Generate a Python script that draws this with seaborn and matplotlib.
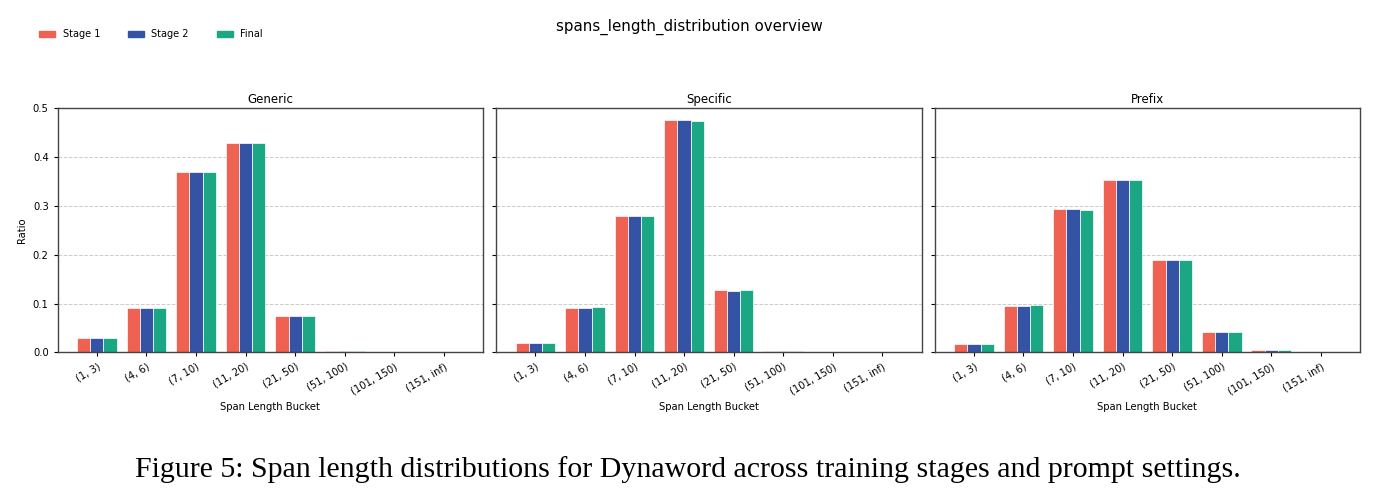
import pandas as pd
import matplotlib
matplotlib.use("Agg")
import matplotlib.pyplot as plt
import seaborn as sns

buckets = ["(1, 3)", "(4, 6)", "(7, 10)", "(11, 20)", "(21, 50)",
           "(51, 100)", "(101, 150)", "(151, inf)"]
stages = ["Stage 1", "Stage 2", "Final"]
settings = ["Generic", "Specific", "Prefix"]

generic_stage1 = [0.030, 0.091, 0.370, 0.429, 0.0745, 0.003, 0.0002, 0.0]
generic_stage2 = [0.030, 0.091, 0.370, 0.429, 0.0745, 0.003, 0.0002, 0.0]
generic_final = [0.030, 0.091, 0.370, 0.428, 0.0745, 0.003, 0.0002, 0.0]

specific_stage1 = [0.019, 0.091, 0.280, 0.476, 0.127, 0.002, 0.0001, 0.0]
specific_stage2 = [0.019, 0.0915, 0.279, 0.477, 0.1255, 0.002, 0.0001, 0.0]
specific_final = [0.019, 0.093, 0.279, 0.475, 0.127, 0.002, 0.0001, 0.0]

prefix_stage1 = [0.017, 0.0956, 0.294, 0.3525, 0.190, 0.0423, 0.0048, 0.0]
prefix_stage2 = [0.017, 0.0956, 0.294, 0.353, 0.190, 0.0423, 0.0048, 0.0]
prefix_final = [0.017, 0.0963, 0.292, 0.354, 0.190, 0.0423, 0.0048, 0.0]

palette = {"Stage 1": "#EF6150", "Stage 2": "#3553A5", "Final": "#1BA784"}

series = {
    "Generic": [generic_stage1, generic_stage2, generic_final],
    "Specific": [specific_stage1, specific_stage2, specific_final],
    "Prefix": [prefix_stage1, prefix_stage2, prefix_final],
}

rows = []
for setting in settings:
    for stage, vals in zip(stages, series[setting]):
        for b, v in zip(buckets, vals):
            rows.append({"setting": setting, "stage": stage, "bucket": b, "ratio": v})
df = pd.DataFrame(rows)

plt.rcParams["font.family"] = ["DejaVu Sans"]

fig, axes = plt.subplots(1, 3, figsize=(13.84, 5.01), dpi=100, sharey=True)
fig.subplots_adjust(left=0.0417, right=0.9827, top=0.7838, bottom=0.2968, wspace=0.031)

for ax, setting in zip(axes, settings):
    sub = df[df["setting"] == setting]
    sns.barplot(data=sub, x="bucket", y="ratio", hue="stage", order=buckets,
                hue_order=stages, palette=palette, width=0.8, saturation=1,
                edgecolor="white", linewidth=0.5, ax=ax, legend=False)
    ax.set_title(setting, fontsize=8.5, pad=4)
    ax.set_xlabel("Span Length Bucket", fontsize=7.2)
    ax.set_ylabel("")
    ax.set_xlim(-0.79, 7.79)
    ax.set_ylim(0, 0.5)
    ax.set_yticks([0.0, 0.1, 0.2, 0.3, 0.4, 0.5])
    ax.grid(axis="y", linestyle="--", color="#cccccc", linewidth=0.7)
    ax.set_axisbelow(True)
    ax.tick_params(axis="both", labelsize=7.2, length=3)
    for lbl in ax.get_xticklabels():
        lbl.set_rotation(30)
        lbl.set_ha("right")
        lbl.set_rotation_mode("anchor")
    for sp in ax.spines.values():
        sp.set_color("#444444")
        sp.set_linewidth(1.0)

axes[0].set_ylabel("Ratio", fontsize=7.2)
axes[0].yaxis.set_major_formatter(matplotlib.ticker.FormatStrFormatter("%.1f"))

handles = [matplotlib.patches.Patch(color=palette[s], label=s) for s in stages]
fig.legend(handles=handles, loc="center left", bbox_to_anchor=(0.022, 0.932),
           ncol=3, frameon=False, fontsize=7, handlelength=1.6, handleheight=0.6,
           columnspacing=2.9)

fig.suptitle("spans_length_distribution overview", fontsize=10.8, x=0.498, y=0.962)

fig.text(0.497, 0.062,
         "Figure 5: Span length distributions for Dynaword across training stages and prompt settings.",
         ha="center", va="center", fontsize=21.5, family=["Liberation Serif", "DejaVu Serif"])

fig.savefig("out.png", dpi=100)
plt.close(fig)
